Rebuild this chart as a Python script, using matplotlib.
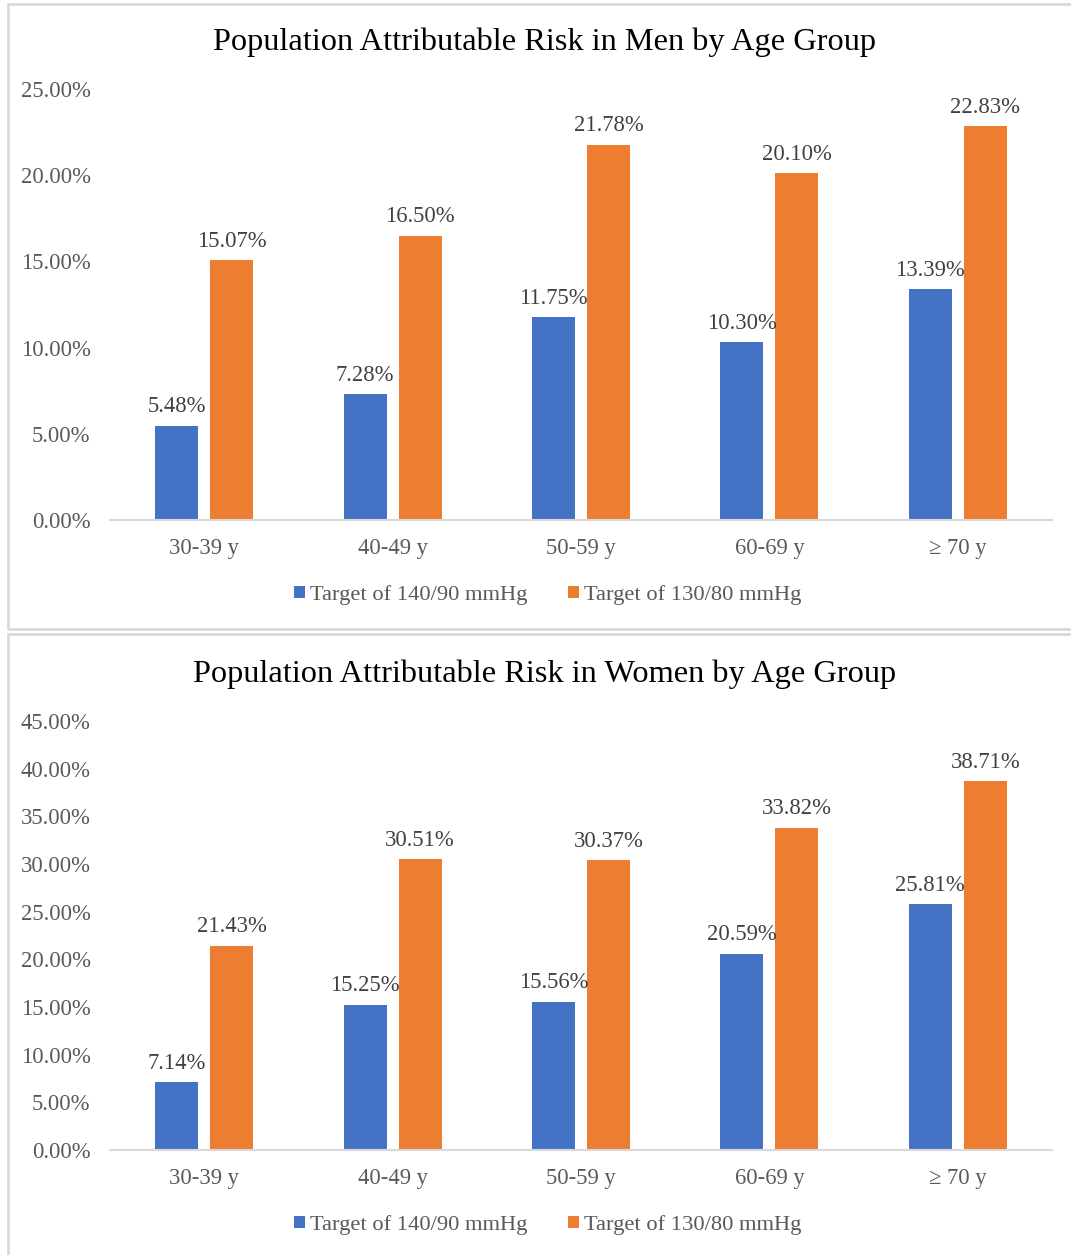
import numpy as np
import matplotlib.pyplot as plt
from matplotlib.patches import Rectangle

plt.rcParams['font.family'] = ['Liberation Serif', 'DejaVu Serif']

# Age groups and population attributable risk (%)
age_groups = ['30-39 y', '40-49 y', '50-59 y', '60-69 y', '\u2265 70 y']
men_140 = [5.48, 7.28, 11.75, 10.30, 13.39]
men_130 = [15.07, 16.50, 21.78, 20.10, 22.83]
women_140 = [7.14, 15.25, 15.56, 20.59, 25.81]
women_130 = [21.43, 30.51, 30.37, 33.82, 38.71]
series_names = ['Target of 140/90 mmHg', 'Target of 130/80 mmHg']

blue = '#4472c4'
orange = '#ed7d31'
tick_grey = '#595959'
label_grey = '#404040'
border_grey = '#d9d9d9'

W, H = 1071, 1255
fig = plt.figure(figsize=(W / 100, H / 100), dpi=100)


def px_box(x0, y0, x1, y1):
    # convert pixel box (top-left origin) into figure fraction rect
    return [x0 / W, 1 - y1 / H, (x1 - x0) / W, (y1 - y0) / H]


def panel(rect, title, title_y, a, b, ymax, legend_y):
    ax = fig.add_axes(rect)
    x = np.arange(len(age_groups))
    off, w = 0.146, 0.229
    b1 = ax.bar(x - off, a, w, color=blue, label=series_names[0])
    b2 = ax.bar(x + off, b, w, color=orange, label=series_names[1])
    for bars, vals in ((b1, a), (b2, b)):
        for rect_, v in zip(bars, vals):
            ax.annotate(f'{v:.2f}%', (rect_.get_x() + rect_.get_width() / 2, v),
                        xytext=(0, 6), textcoords='offset points',
                        ha='center', va='bottom', fontsize=16.3, color=label_grey)
    ax.set_xlim(-0.5, 4.5)
    ax.set_ylim(0, ymax)
    ticks = np.arange(0, ymax + 0.1, 5)
    ax.set_yticks(ticks)
    ax.set_yticklabels([f'{t:.2f}%' for t in ticks])
    ax.set_xticks(x)
    ax.set_xticklabels(age_groups)
    ax.tick_params(axis='both', length=0, labelsize=16.3, labelcolor=tick_grey)
    ax.tick_params(axis='x', pad=13)
    ax.tick_params(axis='y', pad=14)
    for lbl in ax.get_yticklabels():
        lbl.set_verticalalignment('center_baseline')
    for s in ('top', 'right', 'left'):
        ax.spines[s].set_visible(False)
    ax.spines['bottom'].set_color(border_grey)
    ax.spines['bottom'].set_linewidth(1.5)
    fig.text(0.508, 1 - title_y / H, title, ha='center', va='center',
             fontsize=23.3, color='black')
    fig.legend(handles=[b1, b2], loc='center', ncol=2, frameon=False,
               bbox_to_anchor=(548 / W, 1 - legend_y / H), fontsize=16.2,
               labelcolor=tick_grey, handlelength=0.47, handleheight=0.47,
               handletextpad=0.25, columnspacing=1.8)
    return ax


panel(px_box(110, 89, 1052, 520), 'Population Attributable Risk in Men by Age Group',
      42, men_140, men_130, 25, 595)
panel(px_box(110, 721, 1052, 1150), 'Population Attributable Risk in Women by Age Group',
      674, women_140, women_130, 45, 1225)

# panel frames
fig.patches.append(Rectangle((8 / W, 1 - 629 / H), 1.2, (629 - 4) / H,
                             transform=fig.transFigure, fill=False,
                             edgecolor=border_grey, linewidth=2))
fig.patches.append(Rectangle((8 / W, -0.1), 1.2, 0.1 + (H - 634) / H,
                             transform=fig.transFigure, fill=False,
                             edgecolor=border_grey, linewidth=2))

fig.savefig('out.png', dpi=100)
